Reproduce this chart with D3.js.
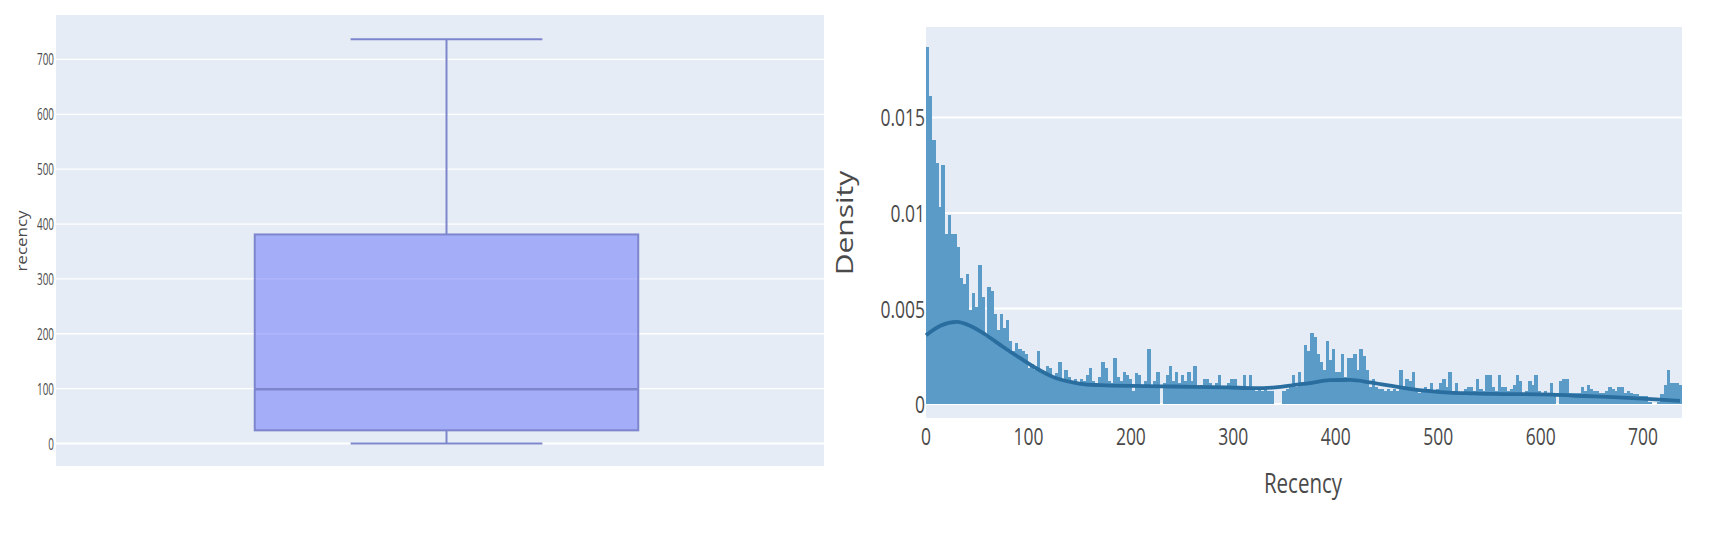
<!DOCTYPE html>
<html lang="en">
  <head>
    <meta charset="UTF-8" />
    <title>Recency box plot and density</title>
    <script src="https://d3js.org/d3.v7.min.js"></script>
    <style>
      body {
        margin: 0;
        background: #fff;
        font-family: "Open Sans", sans-serif;
      }
      svg {
        display: block;
      }
      .tick-label {
        fill: #4a4a4a;
      }
    </style>
  </head>
  <body>
    <svg id="chart" width="1722" height="534"></svg>

    <script>
      // box plot summary of recency: min, q1, median, q3, max
      const recencyBox = [0, 24, 99, 381, 737];
      const boxTicks = [0, 100, 200, 300, 400, 500, 600, 700];

      // histogram of recency (density), bins of 3 days starting at 0
      const binWidth = 3;
      const densityBins = [
        0.0187, 0.0161, 0.0138, 0.0126, 0.0103, 0.0125, 0.0089, 0.0099, 0.0089, 0.0089,
        0.0082, 0.0066, 0.0063, 0.0068, 0.0049, 0.0058, 0.0051, 0.0073, 0.0056, 0.0035,
        0.0061, 0.0059, 0.0047, 0.0039, 0.0047, 0.004, 0.0044, 0.0033, 0.0028, 0.0032,
        0.0029, 0.0028, 0.0026, 0.0019, 0.0021, 0.0018, 0.0028, 0.0016, 0.0016, 0.002,
        0.0019, 0.0013, 0.0016, 0.0022, 0.0012, 0.0018, 0.0014, 0.0011, 0.0013, 0.0011,
        0.0013, 0.0012, 0.0015, 0.0019, 0.0012, 0.001, 0.0014, 0.0022, 0.0019, 0.0012,
        0.0011, 0.0024, 0.0014, 0.0012, 0.0017, 0.0015, 0.0013, 0.0007, 0.0016, 0.0015,
        0.001, 0.0012, 0.0029, 0.0009, 0.0012, 0.0017, 0, 0.0011, 0.0015, 0.002,
        0.0012, 0.0017, 0.0011, 0.0015, 0.0012, 0.0017, 0.0012, 0.002, 0.0009, 0.001,
        0.0013, 0.0013, 0.0011, 0.0009, 0.0011, 0.0015, 0.0009, 0.0008, 0.0011, 0.0013,
        0.0013, 0.0009, 0.0008, 0.0015, 0.0009, 0.0015, 0.0008, 0.0007, 0.0008, 0.0007,
        0.0008, 0.0007, 0.0007, 0, 0, 0, 0.0007, 0.0008, 0.001, 0.0015,
        0.0009, 0.0017, 0.0011, 0.0031, 0.0028, 0.0037, 0.0035, 0.0026, 0.0022, 0.0018,
        0.0033, 0.0023, 0.0029, 0.0017, 0.0017, 0.0026, 0.0014, 0.0024, 0.0024, 0.0026,
        0.0018, 0.0029, 0.0025, 0.0018, 0.0009, 0.0013, 0.0009, 0.0008, 0.0008, 0.0007,
        0.0008, 0.0007, 0.0008, 0.0007, 0.0018, 0.0009, 0.0013, 0.0012, 0.0017, 0.0007,
        0.0006, 0.0007, 0.0009, 0.0008, 0.0011, 0.0007, 0.0008, 0.0011, 0.0013, 0.0009,
        0.0017, 0.0007, 0.0011, 0.0006, 0.0006, 0.0008, 0.0009, 0.0009, 0.0007, 0.0013,
        0.0008, 0.0007, 0.0015, 0.0015, 0.0009, 0.0007, 0.0015, 0.0009, 0.0009, 0.0007,
        0.0008, 0.001, 0.0015, 0.0012, 0.0006, 0.0007, 0.0012, 0.001, 0.0015, 0.0007,
        0.0006, 0.0007, 0.0006, 0.0011, 0.0006, 0, 0.0012, 0.0013, 0.0013, 0.0006,
        0.0006, 0.0006, 0.0006, 0.0009, 0.0007, 0.001, 0.0008, 0.0007, 0.0007, 0.0006,
        0.0006, 0.0007, 0.0009, 0.0008, 0.0007, 0.0009, 0.0009, 0.0006, 0.0007, 0.0006,
        0.0005, 0.0005, 0.0004, 0.0004, 0.0004, 0.0001, 0, 0, 0.0001, 0.0005,
        0.001, 0.0018, 0.0011, 0.0011, 0.0011, 0.001,
      ];

      // kernel density curve
      const kdeX = [
        0, 14, 30, 43, 59, 75, 92, 108, 124, 141, 157, 170, 200, 230, 260, 295, 321,
        341, 360, 375, 394, 414, 433, 453, 472, 492, 511, 531, 551, 578, 611, 643,
        676, 708, 736,
      ];
      const kdeY = [
        0.0036, 0.0041, 0.0043, 0.0041, 0.0036, 0.003, 0.0024, 0.00186, 0.00142,
        0.00116, 0.00102, 0.00099, 0.00095, 0.00093, 0.0009, 0.00087, 0.00083,
        0.00087, 0.001, 0.0011, 0.00125, 0.00126, 0.00114, 0.00096, 0.0008, 0.00068,
        0.0006, 0.00056, 0.00053, 0.00052, 0.00049, 0.00042, 0.00035, 0.00026,
        0.00017,
      ];

      const densityTicks = [0, 0.005, 0.01, 0.015];
      const densityTickLabels = ["0", "0.005", "0.01", "0.015"];
      const recencyTicks = [0, 100, 200, 300, 400, 500, 600, 700];

      const svg = d3.select("#chart");
      const bg = "#e5ecf6";

      // ---------- left: box plot ----------
      const left = { x0: 56, x1: 824, y0: 15, y1: 466 };
      const yBox = d3.scaleLinear().domain([-41, 781]).range([left.y1, left.y0]);
      // the box sits a little right of the panel middle in the picture
      const xBox = d3.scaleBand().domain(["recency"]).range([63, 830]);

      svg
        .append("rect")
        .attr("x", left.x0)
        .attr("y", left.y0)
        .attr("width", left.x1 - left.x0)
        .attr("height", left.y1 - left.y0)
        .attr("fill", bg);

      svg
        .append("g")
        .selectAll("line")
        .data(boxTicks)
        .join("line")
        .attr("x1", left.x0)
        .attr("x2", left.x1)
        .attr("y1", (d) => yBox(d))
        .attr("y2", (d) => yBox(d))
        .attr("stroke", "#fff")
        .attr("stroke-width", (d) => (d === 0 ? 2 : 1.3));

      svg
        .append("g")
        .selectAll("text")
        .data(boxTicks)
        .join("text")
        .attr("class", "tick-label")
        .attr("text-anchor", "end")
        .attr("dominant-baseline", "central")
        .attr("font-size", 16)
        .attr("transform", (d) => `translate(54,${yBox(d)}) scale(0.62,1)`)
        .text((d) => d);

      svg
        .append("text")
        .attr("class", "tick-label")
        .attr("text-anchor", "middle")
        .attr("dominant-baseline", "central")
        .attr("font-size", 17)
        .attr("transform", "translate(22,241) scale(0.8,1) rotate(-90)")
        .text("recency");

      const cx = xBox("recency") + xBox.bandwidth() / 2;
      const boxW = xBox.bandwidth() * 0.5;
      const capW = boxW * 0.5;
      const [mn, q1, med, q3, mx] = recencyBox;
      const whiskerColor = "#7d86cc";

      const gBox = svg.append("g");
      // whiskers
      gBox
        .append("line")
        .attr("x1", cx)
        .attr("x2", cx)
        .attr("y1", yBox(q3))
        .attr("y2", yBox(mx))
        .attr("stroke", whiskerColor)
        .attr("stroke-width", 2);
      gBox
        .append("line")
        .attr("x1", cx)
        .attr("x2", cx)
        .attr("y1", yBox(q1))
        .attr("y2", yBox(mn))
        .attr("stroke", whiskerColor)
        .attr("stroke-width", 2);
      [mn, mx].forEach((v) => {
        gBox
          .append("line")
          .attr("x1", cx - capW / 2)
          .attr("x2", cx + capW / 2)
          .attr("y1", yBox(v))
          .attr("y2", yBox(v))
          .attr("stroke", whiskerColor)
          .attr("stroke-width", 2);
      });
      gBox
        .append("rect")
        .attr("x", cx - boxW / 2)
        .attr("y", yBox(q3))
        .attr("width", boxW)
        .attr("height", yBox(q1) - yBox(q3))
        .attr("fill", "rgba(99,110,250,0.5)")
        .attr("stroke", whiskerColor)
        .attr("stroke-width", 2);
      gBox
        .append("line")
        .attr("x1", cx - boxW / 2)
        .attr("x2", cx + boxW / 2)
        .attr("y1", yBox(med))
        .attr("y2", yBox(med))
        .attr("stroke", whiskerColor)
        .attr("stroke-width", 2.5);

      // ---------- right: histogram + density ----------
      const right = { x0: 926, x1: 1682, y0: 27, y1: 418 };
      const xRec = d3.scaleLinear().domain([0, 738]).range([right.x0, right.x1]);
      const yDen = d3.scaleLinear().domain([-0.00073, 0.01973]).range([right.y1, right.y0]);

      svg
        .append("rect")
        .attr("x", right.x0)
        .attr("y", right.y0)
        .attr("width", right.x1 - right.x0)
        .attr("height", right.y1 - right.y0)
        .attr("fill", bg);

      svg
        .append("g")
        .selectAll("line")
        .data(densityTicks)
        .join("line")
        .attr("x1", right.x0)
        .attr("x2", right.x1)
        .attr("y1", (d) => yDen(d))
        .attr("y2", (d) => yDen(d))
        .attr("stroke", "#fff")
        .attr("stroke-width", 2);

      svg
        .append("g")
        .attr("shape-rendering", "crispEdges")
        .selectAll("rect")
        .data(densityBins)
        .join("rect")
        .attr("x", (d, i) => xRec(i * binWidth))
        .attr("y", (d) => yDen(d))
        .attr("width", (d, i) => xRec((i + 1) * binWidth) - xRec(i * binWidth) + 0.3)
        .attr("height", (d) => yDen(0) - yDen(d))
        .attr("fill", "#5a9bc8");

      const kde = d3
        .line()
        .x((d) => xRec(d[0]))
        .y((d) => yDen(d[1]))
        .curve(d3.curveMonotoneX);

      svg
        .append("path")
        .datum(d3.zip(kdeX, kdeY))
        .attr("d", kde)
        .attr("fill", "none")
        .attr("stroke", "#2a6e9f")
        .attr("stroke-width", 3.8);

      svg
        .append("g")
        .selectAll("text")
        .data(densityTicks)
        .join("text")
        .attr("class", "tick-label")
        .attr("text-anchor", "end")
        .attr("dominant-baseline", "central")
        .attr("font-size", 23)
        .attr("transform", (d) => `translate(${right.x0 - 1},${yDen(d)}) scale(0.76,1)`)
        .text((d, i) => densityTickLabels[i]);

      svg
        .append("g")
        .selectAll("text")
        .data(recencyTicks)
        .join("text")
        .attr("class", "tick-label")
        .attr("text-anchor", "middle")
        .attr("dominant-baseline", "central")
        .attr("font-size", 23)
        .attr("transform", (d) => `translate(${xRec(d)},436) scale(0.76,1)`)
        .text((d) => d);

      svg
        .append("text")
        .attr("class", "tick-label")
        .attr("text-anchor", "middle")
        .attr("dominant-baseline", "central")
        .attr("font-size", 27)
        .attr("transform", "translate(1303,482) scale(0.76,1)")
        .text("Recency");

      svg
        .append("text")
        .attr("class", "tick-label")
        .attr("text-anchor", "middle")
        .attr("dominant-baseline", "central")
        .attr("font-size", 30)
        .attr("transform", "translate(844,223) scale(0.76,1) rotate(-90)")
        .text("Density");
    </script>
  </body>
</html>
